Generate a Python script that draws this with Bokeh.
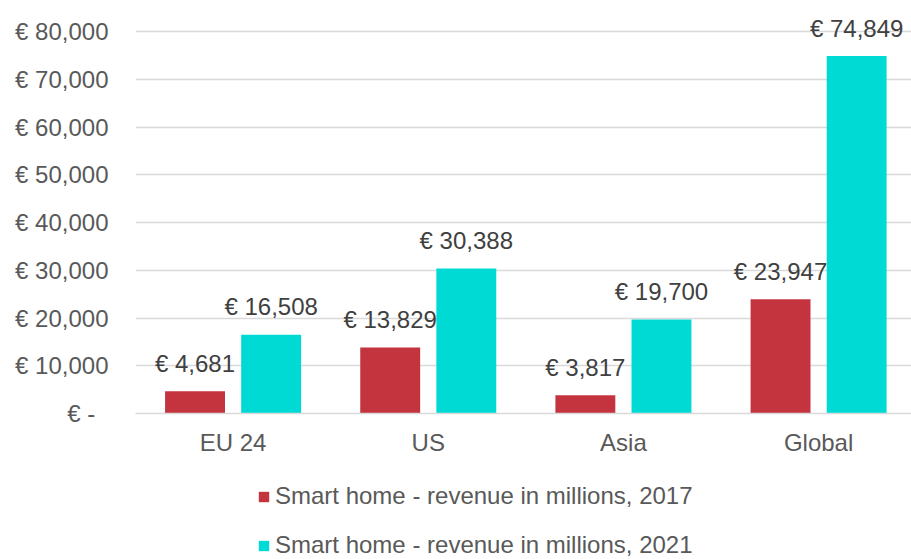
from bokeh.plotting import figure
from bokeh.layouts import column
from bokeh.models import (Range1d, FixedTicker, Legend, LegendItem, ColumnDataSource)
from bokeh.core.properties import value
from bokeh.embed import file_html
from bokeh.resources import INLINE

categories = ["EU 24", "US", "Asia", "Global"]
rev_2017 = [4681, 13829, 3817, 23947]
rev_2021 = [16508, 30388, 19700, 74849]
y_ticks = [0, 10000, 20000, 30000, 40000, 50000, 60000, 70000, 80000]
series_names = ["Smart home - revenue in millions, 2017",
                "Smart home - revenue in millions, 2021"]

RED = "#C3343F"
CYAN = "#00DAD4"
FONT = "Liberation Sans"
AX_COL = "#595959"
LBL_COL = "#404040"
GRID = "#D9D9D9"

xs = list(range(len(categories)))
off = 0.195
bw = 0.307

src17 = ColumnDataSource(dict(
    x=[i - off for i in xs], top=rev_2017,
    lab=[f"€ {v:,}" for v in rev_2017]))
src21 = ColumnDataSource(dict(
    x=[i + off for i in xs], top=rev_2021,
    lab=[f"€ {v:,}" for v in rev_2021]))

p = figure(width=911, height=462, output_backend="svg", toolbar_location=None,
           x_range=Range1d(-0.5, 3.476), y_range=Range1d(0, 84400),
           min_border_left=135, min_border_right=0, min_border_top=10,
           min_border_bottom=49)
p.outline_line_color = None
p.background_fill_color = "white"

r1 = p.vbar(x="x", top="top", width=bw, source=src17, fill_color=RED,
            line_color=None)
r2 = p.vbar(x="x", top="top", width=bw, source=src21, fill_color=CYAN,
            line_color=None)

for s in (src17, src21):
    p.text(x="x", y="top", text="lab", source=s, y_offset=-28,
           text_align="center", text_baseline="alphabetic",
           text_font=value(FONT), text_font_size="24px", text_color=LBL_COL)

# axes
p.xaxis.ticker = FixedTicker(ticks=xs)
p.xaxis.major_label_overrides = {i: c for i, c in zip(xs, categories)}
p.xaxis.axis_line_color = GRID
p.xaxis.axis_line_width = 1.5
p.xaxis.major_tick_line_color = None
p.xaxis.minor_tick_line_color = None
p.xaxis.major_tick_out = 0
p.xaxis.major_tick_in = 0
p.xaxis.major_label_standoff = 15
p.xaxis.major_label_text_font = FONT
p.xaxis.major_label_text_font_size = "24px"
p.xaxis.major_label_text_color = AX_COL

p.yaxis.ticker = FixedTicker(ticks=y_ticks)
p.yaxis.major_label_overrides = {t: ("€ -\u00a0\u00a0" if t == 0 else f"€ {t:,}")
                                 for t in y_ticks}
p.yaxis.axis_line_color = None
p.yaxis.major_tick_line_color = None
p.yaxis.minor_tick_line_color = None
p.yaxis.major_tick_out = 0
p.yaxis.major_tick_in = 0
p.yaxis.major_label_standoff = 27
p.yaxis.major_label_text_font = FONT
p.yaxis.major_label_text_font_size = "24px"
p.yaxis.major_label_text_color = AX_COL

p.xgrid.grid_line_color = None
p.ygrid.grid_line_color = GRID
p.ygrid.grid_line_width = 1.5

# legend strip below the chart (swatch renderers sit outside the visible range)
pl = figure(width=911, height=97, output_backend="svg", toolbar_location=None,
            x_range=Range1d(0, 1), y_range=Range1d(0, 1),
            min_border_left=135, min_border_right=0, min_border_top=0,
            min_border_bottom=0)
pl.axis.visible = False
pl.grid.grid_line_color = None
pl.outline_line_color = None
l1 = pl.vbar(x=[-5], top=[0], width=0.1, fill_color=RED, line_color=None)
l2 = pl.vbar(x=[-5], top=[0], width=0.1, fill_color=CYAN, line_color=None)

legend = Legend(items=[LegendItem(label=series_names[0], renderers=[l1]),
                       LegendItem(label=series_names[1], renderers=[l2])],
                orientation="vertical", location=(122, 0),
                glyph_width=13, glyph_height=13, label_height=22,
                label_standoff=5,
                label_text_font=FONT, label_text_font_size="24px",
                label_text_color=AX_COL, spacing=21, padding=0, margin=0,
                border_line_color=None, background_fill_alpha=0)
pl.add_layout(legend)

open("out.html", "w").write(file_html(column(p, pl), INLINE))
